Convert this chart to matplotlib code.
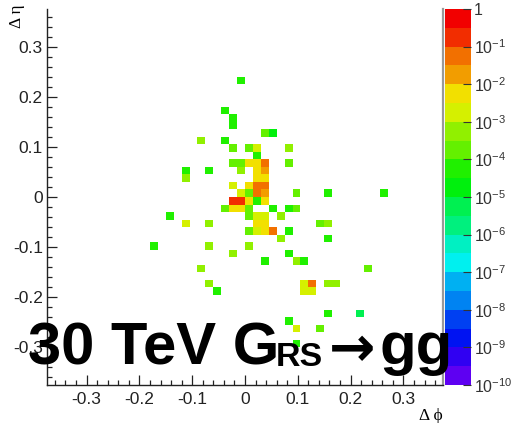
import colorsys
import numpy as np
import matplotlib
matplotlib.use("Agg")
import matplotlib.pyplot as plt
from matplotlib.colors import ListedColormap, LogNorm
from matplotlib.ticker import MultipleLocator, FuncFormatter, FixedLocator, FixedFormatter, LogLocator

plt.rcParams["font.family"] = ["Liberation Sans", "DejaVu Sans"]
plt.rcParams["axes.unicode_minus"] = False
plt.rcParams["mathtext.default"] = "regular"

# binning of the Δφ–Δη map
BIN_EDGES = np.linspace(-0.375, 0.375, 51)

# filled cells: centres in Δφ and Δη, normalised content
dphi = [-0.0075, -0.0375, -0.0225, -0.0225, 0.0375, 0.0525, -0.0825, -0.0375,
        -0.0225, 0.0075, 0.0225, 0.0825, 0.0225,
        -0.0225, -0.0075, 0.0075, 0.0225, 0.0375, 0.0825,
        -0.1125, -0.0675, -0.0075, 0.0225, 0.0375,
        -0.1125, 0.0225, 0.0375,
        -0.0225, 0.0075, 0.0225, 0.0375,
        -0.0075, 0.0075, 0.0225, 0.0375, 0.0975, 0.1575, 0.2625,
        -0.0225, -0.0075, 0.0075, 0.0225, 0.0375,
        -0.0375, -0.0225, -0.0075, 0.0075, 0.0525, 0.0825, 0.0975,
        -0.1425, 0.0075, 0.0225, 0.0375, 0.0675,
        -0.1125, -0.0675, 0.0225, 0.0375, 0.1425, 0.1575,
        0.0075, 0.0225, 0.0375, 0.0525, 0.0825,
        0.0675, 0.1575,
        -0.1725, -0.0675, 0.0075,
        -0.0225, 0.0825,
        0.0375, 0.0975, 0.1125,
        -0.0825, 0.2325,
        -0.0675, 0.1125, 0.1275, 0.1575, 0.1725,
        -0.0525, 0.1125, 0.1275,
        0.1575, 0.2175,
        0.0825,
        0.0975, 0.1425,
        0.0975]
deta = [0.2325, 0.1725, 0.1575, 0.1425, 0.1275, 0.1275, 0.1125, 0.1125,
        0.0975, 0.0975, 0.0975, 0.0975, 0.0825,
        0.0675, 0.0675, 0.0675, 0.0675, 0.0675, 0.0675,
        0.0525, 0.0525, 0.0525, 0.0525, 0.0525,
        0.0375, 0.0375, 0.0375,
        0.0225, 0.0225, 0.0225, 0.0225,
        0.0075, 0.0075, 0.0075, 0.0075, 0.0075, 0.0075, 0.0075,
        -0.0075, -0.0075, -0.0075, -0.0075, -0.0075,
        -0.0225, -0.0225, -0.0225, -0.0225, -0.0225, -0.0225, -0.0225,
        -0.0375, -0.0375, -0.0375, -0.0375, -0.0375,
        -0.0525, -0.0525, -0.0525, -0.0525, -0.0525, -0.0525,
        -0.0675, -0.0675, -0.0675, -0.0675, -0.0675,
        -0.0825, -0.0825,
        -0.0975, -0.0975, -0.0975,
        -0.1125, -0.1125,
        -0.1275, -0.1275, -0.1275,
        -0.1425, -0.1425,
        -0.1725, -0.1725, -0.1725, -0.1725, -0.1725,
        -0.1875, -0.1875, -0.1875,
        -0.2325, -0.2325,
        -0.2475,
        -0.2625, -0.2625,
        -0.2925]
content = [5e-5, 5e-5, 5e-5, 5e-5, 1.5e-4, 1.5e-5, 5e-4, 5e-5,
           1.5e-4, 1.5e-4, 1.5e-3, 5e-4, 5e-5,
           1.5e-4, 1.5e-4, 5e-3, 5e-3, 0.05, 1.5e-4,
           5e-5, 5e-5, 5e-4, 5e-3, 0.02,
           5e-4, 5e-3, 5e-3,
           1.5e-3, 5e-3, 0.05, 0.05,
           1.5e-3, 1.5e-4, 0.05, 0.02, 1.5e-4, 5e-5, 5e-5,
           0.2, 0.2, 5e-3, 5e-5, 5e-3,
           1.5e-4, 5e-3, 5e-3, 1.5e-4, 5e-5, 5e-5, 1.5e-4,
           5e-5, 1.5e-4, 1.5e-3, 1.5e-3, 5e-4,
           1.5e-3, 5e-4, 5e-3, 5e-3, 1.5e-4, 5e-4,
           1.5e-4, 1.5e-3, 5e-3, 0.05, 5e-5,
           5e-4, 5e-5,
           5e-5, 5e-4, 5e-4,
           5e-4, 5e-5,
           5e-5, 5e-4, 5e-5,
           5e-4, 1.5e-4,
           5e-4, 1.5e-3, 0.05, 5e-4, 5e-4,
           5e-5, 1.5e-3, 1.5e-3,
           5e-5, 5e-6,
           5e-5,
           1.5e-3, 1.5e-4,
           5e-5]

# colour-bar decade labels
bar_ticks = [1e-10, 1e-9, 1e-8, 1e-7, 1e-6, 1e-5, 1e-4, 1e-3, 1e-2, 1e-1, 1.0]
bar_labels = ["10$^{-10}$", "10$^{-9}$", "10$^{-8}$", "10$^{-7}$", "10$^{-6}$",
              "10$^{-5}$", "10$^{-4}$", "10$^{-3}$", "10$^{-2}$", "10$^{-1}$", "1"]

# 20-level rainbow palette, violet -> red
palette = []
for j in range(20):
    idx = int((j + 0.99) * 50 / 20)
    hue = 280.0 - (idx + 1) * 280.0 / 50.0
    r, g, b = colorsys.hls_to_rgb(max(hue, 0) / 360.0, 0.5, 1.0)
    palette.append((r * 0.95, g * 0.94, b * 0.95))
cmap = ListedColormap(palette)
norm = LogNorm(vmin=1e-10, vmax=1.0)

W, H = 512, 423
fig = plt.figure(figsize=(W / 100, H / 100), dpi=100)
ax = fig.add_axes([47 / W, 38 / H, 396 / W, 376 / H])
cax = fig.add_axes([445 / W, 38 / H, 26 / W, 376 / H])

hist, xe, ye = np.histogram2d(dphi, deta, bins=[BIN_EDGES, BIN_EDGES], weights=content)
hist = np.ma.masked_where(hist <= 0, hist)
mesh = ax.pcolormesh(xe, ye, hist.T, cmap=cmap, norm=norm)

ax.set_xlim(-0.375, 0.375)
ax.set_ylim(-0.375, 0.375)
for axis in (ax.xaxis, ax.yaxis):
    axis.set_major_locator(MultipleLocator(0.1))
    axis.set_minor_locator(MultipleLocator(0.02))
    axis.set_major_formatter(FuncFormatter(lambda v, p: f"{round(v, 2) + 0:g}"))
ax.tick_params(which="both", direction="in", top=False, right=False,
               colors="#222222", labelsize=12.5)
ax.tick_params(which="major", length=7.5, width=0.9)
ax.tick_params(which="minor", length=3.8, width=0.9)
ax.tick_params(axis="x", pad=5)
ax.tick_params(axis="y", pad=3)
ax.spines["top"].set_visible(False)
for s in ("left", "bottom"):
    ax.spines[s].set_color("#222222")
    ax.spines[s].set_linewidth(1.0)
ax.spines["right"].set_color("#999999")
ax.spines["right"].set_linewidth(1.6)

cb = fig.colorbar(mesh, cax=cax)
cb.outline.set_visible(False)
cax.yaxis.set_major_locator(FixedLocator(bar_ticks))
cax.yaxis.set_major_formatter(FixedFormatter(bar_labels))
cax.yaxis.set_minor_locator(LogLocator(base=10, subs=np.arange(2, 10)))
cax.tick_params(which="both", direction="in", right=True, left=False,
                colors="#333333", labelsize=11.5, pad=2)
cax.tick_params(which="major", length=6, width=0.8)
cax.tick_params(which="minor", length=3, width=0.6)

fig.text(443 / W, 1 - 416 / H, "Δ ϕ", fontsize=12.5, ha="right", va="center",
         family=["Liberation Serif", "DejaVu Serif"])
fig.text(17 / W, 1 - 16 / H, "Δ η", fontsize=12.5, rotation=90, ha="center", va="center",
         family=["Liberation Serif", "DejaVu Serif"])

# headline: "30 TeV G_RS -> gg"
renderer = fig.canvas.get_renderer()
bold = dict(weight="bold", color="black", va="baseline", zorder=10)
base = 1 - 364 / H
t1 = fig.text(28 / W, base, "30 TeV G", fontsize=43, **bold)
b1 = t1.get_window_extent(renderer)
t2 = fig.text(b1.x1 / W - 4 / W, base - 2 / H, "RS", fontsize=24.5, **bold)
b2 = t2.get_window_extent(renderer)
t3 = fig.text(b2.x1 / W + 6 / W, base - 2 / H, "→", fontsize=40,
              family=["DejaVu Sans"], **bold)
b3 = t3.get_window_extent(renderer)
fig.text(b3.x1 / W + 4 / W, base, "gg", fontsize=43, **bold)

fig.savefig("out.png", dpi=100)
